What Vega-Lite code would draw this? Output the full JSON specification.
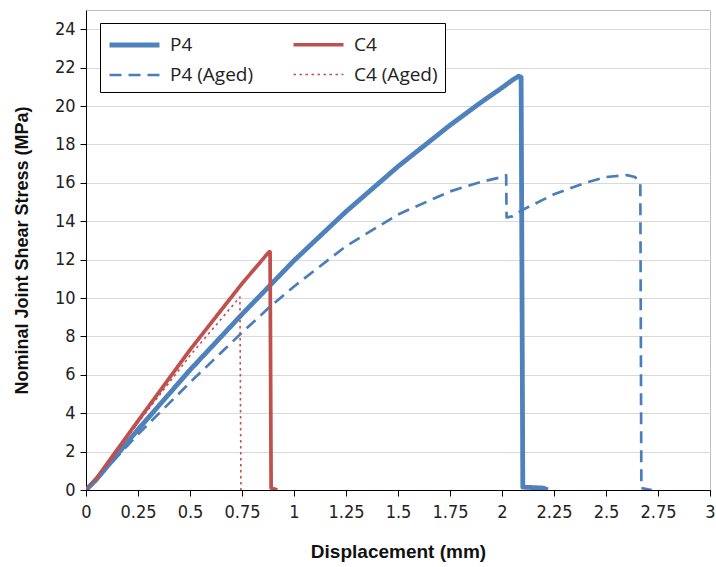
{
  "$schema": "https://vega.github.io/schema/vega-lite/v6.json",
  "width": 624,
  "height": 480,
  "autosize": {"type": "none"},
  "padding": {"left": 86, "top": 10, "right": 6, "bottom": 77},
  "background": "white",
  "config": {
    "view": {"stroke": "#BFBFBF", "strokeWidth": 1},
    "axis": {
      "labelFont": "Liberation Sans Narrow, DejaVu Sans Condensed, sans-serif",
      "labelFontSize": 18,
      "labelColor": "#222222",
      "titleFont": "Liberation Sans, Arial, sans-serif",
      "titleFontWeight": "bold",
      "titleColor": "#111111",
      "domainColor": "#000000",
      "tickColor": "#000000",
      "tickSize": 6
    }
  },
  "data": {
    "values": [
      {"series": "P4", "x": 0, "y": 0},
      {"series": "P4", "x": 0.05, "y": 0.55},
      {"series": "P4", "x": 0.1, "y": 1.2},
      {"series": "P4", "x": 0.25, "y": 3.15},
      {"series": "P4", "x": 0.5, "y": 6.25},
      {"series": "P4", "x": 0.75, "y": 9.15},
      {"series": "P4", "x": 1.0, "y": 11.95},
      {"series": "P4", "x": 1.25, "y": 14.5},
      {"series": "P4", "x": 1.5, "y": 16.85},
      {"series": "P4", "x": 1.75, "y": 19.0},
      {"series": "P4", "x": 1.9, "y": 20.2},
      {"series": "P4", "x": 2.0, "y": 20.95},
      {"series": "P4", "x": 2.05, "y": 21.35},
      {"series": "P4", "x": 2.08, "y": 21.55},
      {"series": "P4", "x": 2.092, "y": 21.5},
      {"series": "P4", "x": 2.1, "y": 0.15},
      {"series": "P4", "x": 2.2, "y": 0.1},
      {"series": "P4", "x": 2.22, "y": 0},
      {"series": "C4", "x": 0, "y": 0},
      {"series": "C4", "x": 0.05, "y": 0.6},
      {"series": "C4", "x": 0.1, "y": 1.35},
      {"series": "C4", "x": 0.25, "y": 3.6},
      {"series": "C4", "x": 0.5, "y": 7.3},
      {"series": "C4", "x": 0.75, "y": 10.75},
      {"series": "C4", "x": 0.88, "y": 12.4},
      {"series": "C4", "x": 0.885, "y": 12.4},
      {"series": "C4", "x": 0.89, "y": 0.1},
      {"series": "C4", "x": 0.92, "y": 0},
      {"series": "P4 (Aged)", "x": 0, "y": 0},
      {"series": "P4 (Aged)", "x": 0.05, "y": 0.55},
      {"series": "P4 (Aged)", "x": 0.1, "y": 1.15},
      {"series": "P4 (Aged)", "x": 0.25, "y": 2.9},
      {"series": "P4 (Aged)", "x": 0.5, "y": 5.6},
      {"series": "P4 (Aged)", "x": 0.75, "y": 8.2},
      {"series": "P4 (Aged)", "x": 0.88, "y": 9.5},
      {"series": "P4 (Aged)", "x": 1.0, "y": 10.6},
      {"series": "P4 (Aged)", "x": 1.25, "y": 12.7},
      {"series": "P4 (Aged)", "x": 1.5, "y": 14.35},
      {"series": "P4 (Aged)", "x": 1.75, "y": 15.55},
      {"series": "P4 (Aged)", "x": 1.9, "y": 16.05},
      {"series": "P4 (Aged)", "x": 2.0, "y": 16.3},
      {"series": "P4 (Aged)", "x": 2.02, "y": 16.4},
      {"series": "P4 (Aged)", "x": 2.022, "y": 14.2},
      {"series": "P4 (Aged)", "x": 2.05, "y": 14.25},
      {"series": "P4 (Aged)", "x": 2.1, "y": 14.6},
      {"series": "P4 (Aged)", "x": 2.25, "y": 15.4},
      {"series": "P4 (Aged)", "x": 2.4, "y": 16.0},
      {"series": "P4 (Aged)", "x": 2.5, "y": 16.3},
      {"series": "P4 (Aged)", "x": 2.6, "y": 16.4},
      {"series": "P4 (Aged)", "x": 2.64, "y": 16.3},
      {"series": "P4 (Aged)", "x": 2.665, "y": 16.0},
      {"series": "P4 (Aged)", "x": 2.67, "y": 0.1},
      {"series": "P4 (Aged)", "x": 2.72, "y": 0},
      {"series": "C4 (Aged)", "x": 0, "y": 0},
      {"series": "C4 (Aged)", "x": 0.05, "y": 0.6},
      {"series": "C4 (Aged)", "x": 0.1, "y": 1.3},
      {"series": "C4 (Aged)", "x": 0.25, "y": 3.5},
      {"series": "C4 (Aged)", "x": 0.5, "y": 7.0},
      {"series": "C4 (Aged)", "x": 0.74, "y": 10.05},
      {"series": "C4 (Aged)", "x": 0.745, "y": 0}
    ]
  },
  "mark": {"type": "line", "strokeJoin": "round", "clip": true},
  "encoding": {
    "x": {
      "field": "x",
      "type": "quantitative",
      "scale": {"domain": [0, 3], "nice": false},
      "axis": {
        "title": "Displacement (mm)",
        "titleFontSize": 19,
        "values": [0, 0.25, 0.5, 0.75, 1, 1.25, 1.5, 1.75, 2, 2.25, 2.5, 2.75, 3],
        "labelExpr": "'' + datum.value",
        "grid": false,
        "labelPadding": 7,
        "titlePadding": 21,
        "labelFlush": false
      }
    },
    "y": {
      "field": "y",
      "type": "quantitative",
      "scale": {"domain": [0, 25], "nice": false},
      "axis": {
        "title": "Nominal Joint Shear Stress (MPa)",
        "titleFontSize": 18,
        "values": [0, 2, 4, 6, 8, 10, 12, 14, 16, 18, 20, 22, 24],
        "grid": true,
        "gridColor": "#D9D9D9",
        "gridWidth": 1,
        "labelPadding": 5,
        "titlePadding": 23,
        "labelFlush": false
      }
    },
    "color": {
      "field": "series",
      "type": "nominal",
      "scale": {
        "domain": ["P4", "C4", "P4 (Aged)", "C4 (Aged)"],
        "range": ["#4F81BD", "#C0504D", "#4A7EBB", "#C0504D"]
      },
      "legend": {
        "title": null,
        "orient": "none",
        "legendX": 14,
        "legendY": 13,
        "columns": 2,
        "direction": "horizontal",
        "symbolType": "M-1,0H3",
        "symbolSize": 625,
        "labelFont": "Open Sans, sans-serif",
        "labelFontSize": 19,
        "labelColor": "#222222",
        "labelOffset": 33,
        "columnPadding": 32,
        "rowPadding": 6,
        "padding": 7,
        "strokeColor": "#000000",
        "fillColor": "white",
        "labelLimit": 300
      }
    },
    "strokeDash": {
      "field": "series",
      "type": "nominal",
      "scale": {
        "domain": ["P4", "C4", "P4 (Aged)", "C4 (Aged)"],
        "range": [[1, 0], [1, 0], [12, 7], [2.5, 3.5]]
      },
      "legend": null
    },
    "strokeWidth": {
      "field": "series",
      "type": "nominal",
      "scale": {
        "domain": ["P4", "C4", "P4 (Aged)", "C4 (Aged)"],
        "range": [4.8, 1.6, 1.8, 3]
      },
      "legend": null
    }
  }
}
